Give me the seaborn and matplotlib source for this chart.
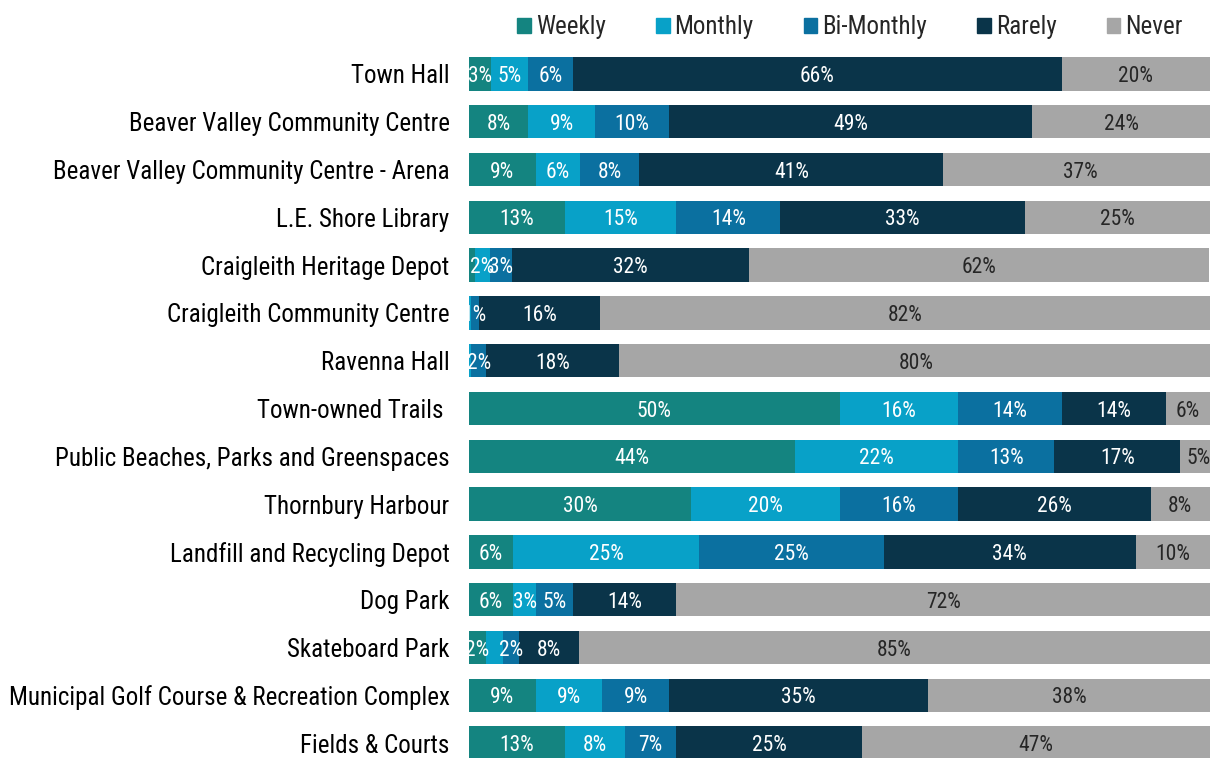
import numpy as np
import matplotlib
matplotlib.use("Agg")
import matplotlib.pyplot as plt
from matplotlib import font_manager as fm
import pandas as pd
import seaborn as sns

# --- data (percent of respondents) ---
facilities = [
    "Town Hall",
    "Beaver Valley Community Centre",
    "Beaver Valley Community Centre - Arena",
    "L.E. Shore Library",
    "Craigleith Heritage Depot",
    "Craigleith Community Centre",
    "Ravenna Hall",
    "Town-owned Trails ",
    "Public Beaches, Parks and Greenspaces",
    "Thornbury Harbour",
    "Landfill and Recycling Depot",
    "Dog Park",
    "Skateboard Park",
    "Municipal Golf Course & Recreation Complex",
    "Fields & Courts",
]
series = ["Weekly", "Monthly", "Bi-Monthly", "Rarely", "Never"]

weekly     = [3, 8, 9, 13, 0.8, 0, 0, 50, 44, 30, 6, 6, 2.3, 9, 13]
monthly    = [5, 9, 6, 15, 2, 0.3, 0.3, 16, 22, 20, 25, 3, 2.3, 9, 8]
bi_monthly = [6, 10, 8, 14, 3, 1, 2, 14, 13, 16, 25, 5, 2.2, 9, 7]
rarely     = [66, 49, 41, 33, 32, 16.4, 18, 14, 17, 26, 34, 14, 8, 35, 25]
never      = [20, 24, 37, 25, 62, 82.3, 80, 6, 5, 8, 10, 72, 85.2, 38, 47]

# labels removed in the original chart (row, series)
hidden_labels = {("Skateboard Park", "Monthly")}

colors = ["#148480", "#08a1c8", "#0b70a0", "#0a3449", "#a6a6a6"]

df = pd.DataFrame({"Facility": facilities, "Weekly": weekly, "Monthly": monthly,
                   "Bi-Monthly": bi_monthly, "Rarely": rarely, "Never": never})
cum = df[series].cumsum(axis=1)

sns.set_theme(style="white")
# condensed sans to stand in for Arial Narrow
available = {f.name for f in fm.fontManager.ttflist}
narrow = [f for f in ["Liberation Sans Narrow", "Arial Narrow", "Roboto Condensed",
                      "PT Sans Narrow", "Archivo Narrow"] if f in available]
plt.rcParams["font.family"] = narrow[:1] + ["DejaVu Sans"]

fig = plt.figure(figsize=(12.16, 7.58), dpi=100)
ax = fig.add_axes([469 / 1216, 0.0, 741 / 1216, 1 - 50 / 758])

# draw cumulative bars from the right, each one covers the previous
for s, c in reversed(list(zip(series, colors))):
    sns.barplot(x=cum[s], y=df["Facility"], color=c, width=0.7,
                orient="h", ax=ax, linewidth=0, saturation=1)

# segment labels
for i, fac in enumerate(facilities):
    for s in series:
        v = df.loc[i, s]
        if v < 1 or (fac, s) in hidden_labels:
            continue
        center = cum.loc[i, s] - v / 2
        ax.text(center, i, f"{v:.0f}%", ha="center", va="center_baseline", fontsize=15.5,
                color="#262626" if s == "Never" else "white")

ax.set_xlim(0, 100)
ax.set_ylim(14.31, -0.5)
ax.set_xlabel("")
ax.set_ylabel("")
ax.set_xticks([])
ax.tick_params(axis="y", length=0, pad=14, labelsize=18, labelcolor="black")
sns.despine(ax=ax, left=True, bottom=True)

handles = [plt.Rectangle((0, 0), 1, 1, color=c) for c in colors]
fig.legend(handles, series, loc="center", bbox_to_anchor=(850 / 1216, 1 - 27 / 758),
           ncol=5, frameon=False, fontsize=18, handlelength=0.55, handleheight=0.55,
           handletextpad=0.2, columnspacing=2.0)

fig.savefig("out.png", dpi=100)
